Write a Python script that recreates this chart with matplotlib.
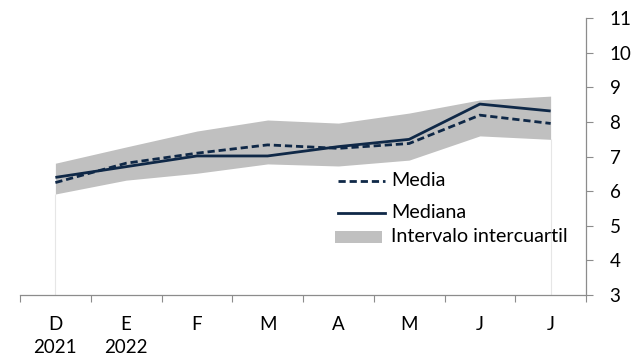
import matplotlib
matplotlib.use("Agg")
import matplotlib.pyplot as plt
from matplotlib.lines import Line2D
from matplotlib.patches import Rectangle
import numpy as np

categories = ["D\n2021", "E\n2022", "F", "M", "A", "M", "J", "J"]
media = [6.25, 6.81, 7.10, 7.34, 7.24, 7.38, 8.20, 7.96]
mediana = [6.40, 6.71, 7.02, 7.02, 7.29, 7.50, 8.52, 8.32]
q_low = [5.92, 6.32, 6.52, 6.79, 6.73, 6.90, 7.60, 7.50]
q_high = [6.81, 7.28, 7.74, 8.06, 7.97, 8.26, 8.64, 8.75]
yticks = [3, 4, 5, 6, 7, 8, 9, 10, 11]

plt.rcParams['font.family'] = ['Lato', 'DejaVu Sans']
navy = "#0f2847"
band = "#c0c0c0"
axis_grey = "#8c8c8c"

fig = plt.figure(figsize=(6.42, 3.6), dpi=100)
ax = fig.add_axes([20/642, 1-295/360, (586-20)/642, (295-18.3)/360])

x = np.arange(len(categories))
ax.fill_between(x, q_low, q_high, color=band, linewidth=0, zorder=1)
ax.vlines([x[0], x[-1]], 3, [q_low[0], q_low[-1]], color="#e6e6e6", linewidth=0.8, zorder=0)
ax.plot(x, mediana, color=navy, linewidth=2.0, solid_capstyle='butt', zorder=3)
ax.plot(x, media, color=navy, linewidth=2.0, linestyle=(0, (2.6, 1.4)), zorder=3)

ax.set_xlim(-0.5, len(categories) - 0.5)
ax.set_ylim(3, 11)
ax.set_yticks(yticks)
ax.yaxis.tick_right()
ax.tick_params(axis='y', direction='out', length=5, width=0.8, color=axis_grey,
               labelsize=13.5, pad=12, labelcolor='black')
ax.set_xticks(x)
ax.set_xticklabels(categories, fontsize=13.5, linespacing=1.45)
ax.set_xticks(np.arange(-0.5, len(categories), 1.0), minor=True)
ax.tick_params(axis='x', which='major', length=0, pad=15)
ax.tick_params(axis='x', which='minor', direction='out', length=5, width=0.8, color=axis_grey)

for s in ['top', 'left']:
    ax.spines[s].set_visible(False)
for s in ['bottom', 'right']:
    ax.spines[s].set_color(axis_grey)
    ax.spines[s].set_linewidth(0.9)

# manual legend (in figure pixel coords)
def fx(px):
    return px / 642
def fy(py):
    return 1 - py / 360

fig.add_artist(Line2D([fx(338), fx(385)], [fy(181), fy(181)], color=navy, linewidth=2.0,
                      linestyle=(0, (2.6, 1.4))))
fig.text(fx(391), fy(181), "Media", fontsize=14.2, va='center', ha='left')
fig.add_artist(Line2D([fx(338), fx(385)], [fy(212.5), fy(212.5)], color=navy, linewidth=2.0))
fig.text(fx(391), fy(212.5), "Mediana", fontsize=14.2, va='center', ha='left')
fig.add_artist(Rectangle((fx(335), fy(243)), fx(382) - fx(335), fy(231) - fy(243),
                         transform=fig.transFigure, color=band, linewidth=0))
fig.text(fx(391), fy(237), "Intervalo intercuartil", fontsize=14.2, va='center', ha='left')

fig.savefig("out.png", dpi=100)
